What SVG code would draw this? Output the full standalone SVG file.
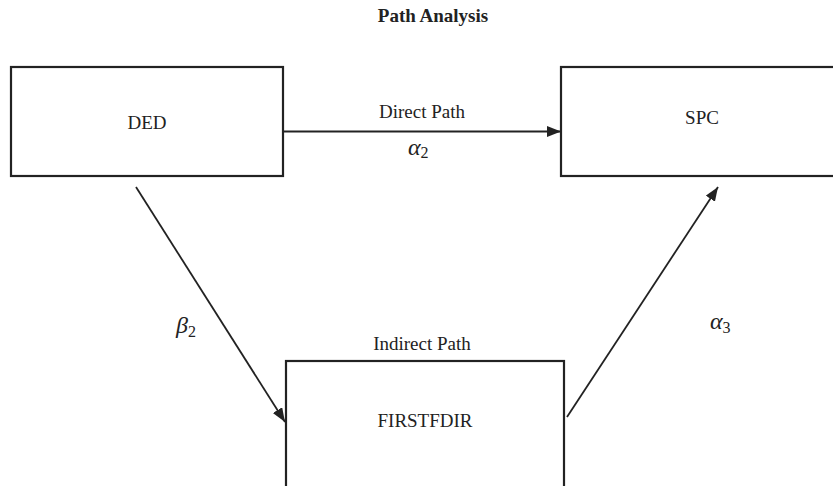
<svg xmlns="http://www.w3.org/2000/svg" width="833" height="486" viewBox="0 0 833 486">
<style>
.box{fill:#fff;stroke:#222;stroke-width:2.2}
.lbl{font-family:"Liberation Serif","Times New Roman",serif;font-size:19px;fill:#222;text-anchor:middle}
.title{font-family:"Liberation Serif","Times New Roman",serif;font-size:19px;font-weight:bold;fill:#222;text-anchor:middle}
.math{font-family:"Liberation Serif","Times New Roman",serif;font-style:italic;font-size:24px;fill:#222}
.sub{font-style:normal;font-size:16px}
.conn{stroke:#222;stroke-width:1.8;fill:none;marker-end:url(#ah)}
</style>
<defs>
<marker id="ah" markerUnits="userSpaceOnUse" markerWidth="15" markerHeight="12" refX="14" refY="5.5" orient="auto">
<path d="M0,0 L14,5.5 L0,11 Z" fill="#222"/>
</marker>
</defs>
<rect width="833" height="486" fill="#fff"/>
<text class="title" x="433" y="22">Path Analysis</text>
<g id="node-ded">
<rect class="box" x="11" y="67" width="272" height="109"/>
<text class="lbl" x="147" y="129">DED</text>
</g>
<g id="node-spc">
<rect class="box" x="561" y="67" width="290" height="109"/>
<text class="lbl" x="702" y="124">SPC</text>
</g>
<g id="node-firstfdir">
<rect class="box" x="286" y="361" width="278" height="140"/>
<text class="lbl" x="425" y="427">FIRSTFDIR</text>
</g>
<g id="connectors">
<line class="conn" x1="282" y1="131.5" x2="561" y2="131.5"/>
<line class="conn" x1="136" y1="187" x2="285" y2="422"/>
<line class="conn" x1="567" y1="417" x2="718" y2="187"/>
</g>
<g id="labels">
<text class="lbl" x="422" y="118">Direct Path</text>
<text class="lbl" x="422" y="350">Indirect Path</text>
<text class="math" x="408" y="155">α<tspan class="sub" dy="3">2</tspan></text>
<text class="math" x="176" y="333">β<tspan class="sub" dy="4">2</tspan></text>
<text class="math" x="710" y="329">α<tspan class="sub" dy="4">3</tspan></text>
</g>
</svg>
